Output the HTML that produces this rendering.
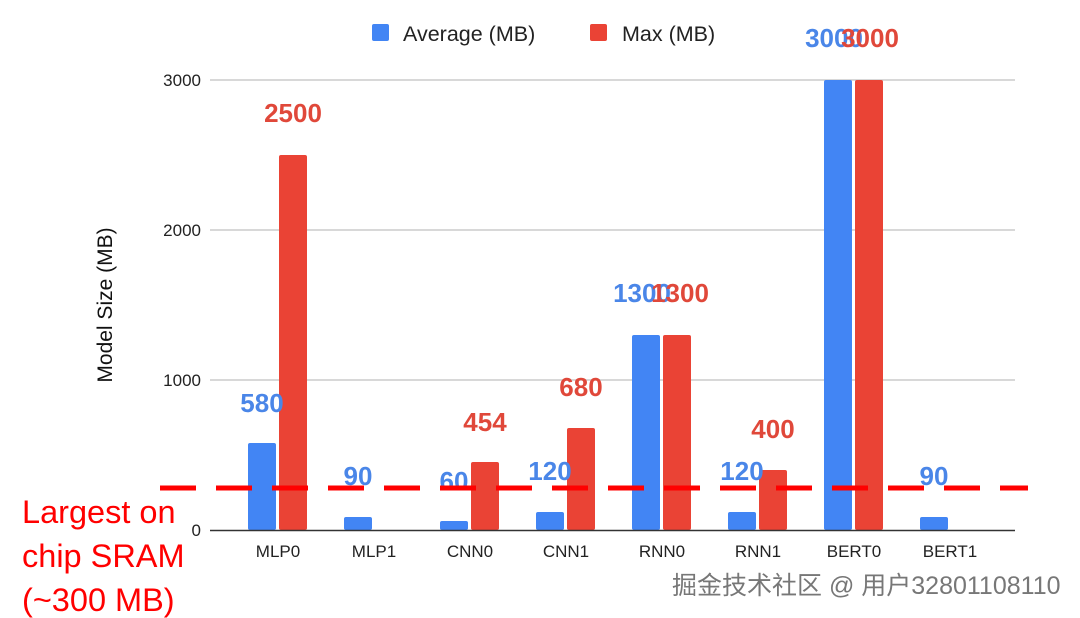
<!DOCTYPE html>
<html><head><meta charset="utf-8"><style>
body{margin:0;background:#fff;}
svg{display:block;}
</style></head><body>
<svg width="1080" height="618" xmlns="http://www.w3.org/2000/svg" font-family="Liberation Sans, Arial, sans-serif">
<rect width="1080" height="618" fill="#fff"/>
<g stroke="#cccccc" stroke-width="1.5">
<line x1="210" y1="80" x2="1015" y2="80"/>
<line x1="210" y1="230" x2="1015" y2="230"/>
<line x1="210" y1="380" x2="1015" y2="380"/>
</g>
<g font-size="17" fill="#222" text-anchor="end">
<text x="201" y="86">3000</text>
<text x="201" y="236">2000</text>
<text x="201" y="386">1000</text>
<text x="201" y="536">0</text>
</g>
<text transform="translate(112,305) rotate(-90)" font-size="21" fill="#111" text-anchor="middle">Model Size (MB)</text>
<rect x="372" y="24" width="17" height="17" fill="#4285f4" rx="2"/>
<text x="403" y="41" font-size="21.5" fill="#222">Average (MB)</text>
<rect x="590" y="24" width="17" height="17" fill="#ea4335" rx="2"/>
<text x="622" y="41" font-size="21.5" fill="#222">Max (MB)</text>
<g fill="#4285f4">
<rect x="248" y="443" width="28" height="87" rx="2"/>
<rect x="344" y="517" width="28" height="13" rx="2"/>
<rect x="440" y="521" width="28" height="9" rx="2"/>
<rect x="536" y="512" width="28" height="18" rx="2"/>
<rect x="632" y="335" width="28" height="195" rx="2"/>
<rect x="728" y="512" width="28" height="18" rx="2"/>
<rect x="824" y="80" width="28" height="450" rx="2"/>
<rect x="920" y="517" width="28" height="13" rx="2"/>
</g>
<g fill="#ea4335">
<rect x="279" y="155" width="28" height="375" rx="2"/>
<rect x="471" y="462" width="28" height="68" rx="2"/>
<rect x="567" y="428" width="28" height="102" rx="2"/>
<rect x="663" y="335" width="28" height="195" rx="2"/>
<rect x="759" y="470" width="28" height="60" rx="2"/>
<rect x="855" y="80" width="28" height="450" rx="2"/>
</g>
<line x1="210" y1="530.5" x2="1015" y2="530.5" stroke="#333" stroke-width="1.5"/>
<g font-size="26" font-weight="bold" text-anchor="middle" fill="#4a86e8">
<text x="262" y="412">580</text>
<text x="358" y="485">90</text>
<text x="454" y="490">60</text>
<text x="550" y="480">120</text>
<text x="642" y="302">1300</text>
<text x="742" y="480">120</text>
<text x="834" y="47">3000</text>
<text x="934" y="485">90</text>
</g>
<g font-size="26" font-weight="bold" text-anchor="middle" fill="#e0483a">
<text x="293" y="122">2500</text>
<text x="485" y="431">454</text>
<text x="581" y="396">680</text>
<text x="680" y="302">1300</text>
<text x="773" y="438">400</text>
<text x="870" y="47">3000</text>
</g>
<g font-size="17" fill="#222" text-anchor="middle">
<text x="278" y="557">MLP0</text>
<text x="374" y="557">MLP1</text>
<text x="470" y="557">CNN0</text>
<text x="566" y="557">CNN1</text>
<text x="662" y="557">RNN0</text>
<text x="758" y="557">RNN1</text>
<text x="854" y="557">BERT0</text>
<text x="950" y="557">BERT1</text>
</g>
<line x1="160" y1="488" x2="1028" y2="488" stroke="#ff0000" stroke-width="5" stroke-dasharray="36,20"/>
<g font-size="32.5" fill="#ff0000">
<text x="22" y="523">Largest on</text>
<text x="22" y="567">chip SRAM</text>
<text x="22" y="611">(~300 MB)</text>
</g>
<text x="672" y="594" font-size="25" fill="#777" font-family="Liberation Sans, Noto Sans CJK SC, sans-serif">掘金技术社区 @ 用户32801108110</text>
</svg>
</body></html>
